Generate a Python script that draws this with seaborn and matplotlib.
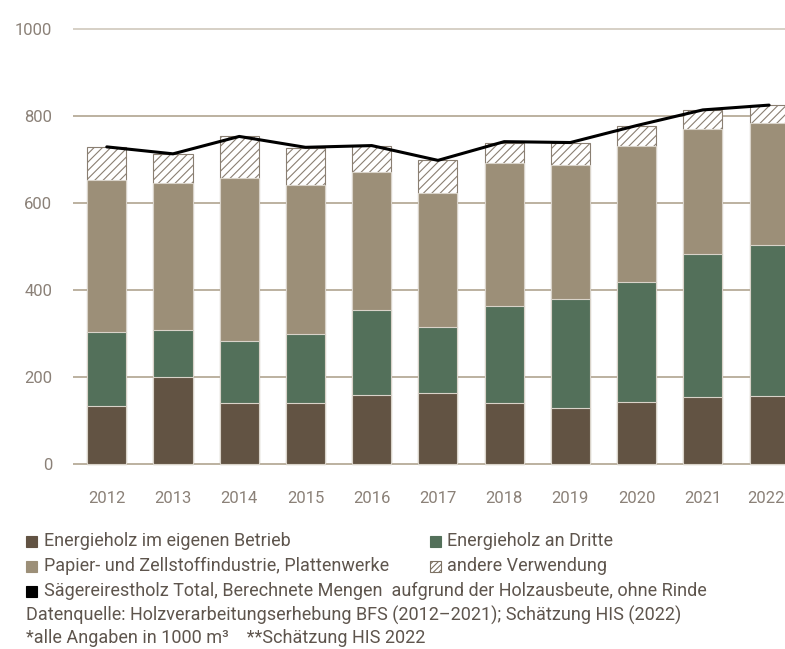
import numpy as np
import pandas as pd
import matplotlib
matplotlib.use("Agg")
import matplotlib.pyplot as plt
import seaborn as sns
from matplotlib.patches import Rectangle

# ===================== Sägerestholz Verwendung (1000 m3) =====================
years = ["2012", "2013", "2014", "2015", "2016", "2017", "2018", "2019", "2020", "2021", "2022*"]
eigen = [133, 200, 140, 140, 159, 163, 140, 129, 143, 154, 156]
dritte = [170, 108, 143, 159, 195, 152, 223, 250, 275, 329, 348]
papier = [350, 339, 374, 342, 317, 307, 328, 308, 312, 287, 280]
andere = [76, 66, 96, 85, 60, 76, 48, 50, 48, 43, 41]
total_line = [729, 713, 753, 728, 732, 698, 741, 739, 778, 814, 825]

c_eigen = "#625343"
c_dritte = "#53705a"
c_papier = "#9c8f78"
c_grid = "#a99c86"
c_tick = "#8b8178"
c_text = "#5e554d"

df = pd.DataFrame({"year": years, "eigen": eigen, "dritte": dritte,
                   "papier": papier, "andere": andere})
df["cum1"] = df["eigen"]
df["cum2"] = df["cum1"] + df["dritte"]
df["cum3"] = df["cum2"] + df["papier"]
df["cum4"] = df["cum3"] + df["andere"]

sns.set_style("white")
plt.rcParams["hatch.color"] = "#7d7264"
plt.rcParams["hatch.linewidth"] = 0.8

fig = plt.figure(figsize=(7.85, 6.49), dpi=100)
ax = fig.add_axes([73 / 785, 1 - 466.2 / 649, 1 - 73 / 785, 439.4 / 649])

w = 0.59
# tallest first, each layer painted over the one before
sns.barplot(data=df, x="year", y="cum4", color="white", width=w, ax=ax,
            edgecolor="#8a7f72", linewidth=0.8, hatch="////", saturation=1)
sns.barplot(data=df, x="year", y="cum3", color=c_papier, width=w, ax=ax,
            edgecolor="#d9d3c9", linewidth=0.8, saturation=1)
sns.barplot(data=df, x="year", y="cum2", color=c_dritte, width=w, ax=ax,
            edgecolor="#d9d3c9", linewidth=0.8, saturation=1)
sns.barplot(data=df, x="year", y="cum1", color=c_eigen, width=w, ax=ax,
            edgecolor="#d9d3c9", linewidth=0.8, saturation=1)

sns.lineplot(x=np.arange(len(years)), y=total_line, color="black", lw=2.2, ax=ax)

ax.set_xlim(-0.51, 10.24)
ax.set_ylim(-5, 1005)
ax.set_yticks([0, 200, 400, 600, 800, 1000])
ax.yaxis.grid(True, color=c_grid, lw=1.1)
ax.xaxis.grid(False)
ax.set_axisbelow(True)
ax.get_ygridlines()[-1].set_color("#cbc4b7")
for s in ax.spines.values():
    s.set_visible(False)
ax.set_xlabel("")
ax.set_ylabel("")
ax.tick_params(axis="y", length=0, pad=15, labelsize=12, labelcolor=c_tick)
ax.tick_params(axis="x", length=0, pad=18, labelsize=12, labelcolor=c_tick)
for lab in ax.get_xticklabels() + ax.get_yticklabels():
    lab.set_family("Roboto")

# legend / notes below the chart
font_leg = ["Roboto", "DejaVu Sans"]
rows = [541, 566, 591, 615, 638]
W, H = 785, 649


def square(x, y, color, hatch=None):
    fc = "white" if hatch else color
    ec = "#7d7264" if hatch else color
    fig.patches.append(Rectangle((x / W, 1 - (y + 5.5) / H), 11 / W, 11 / H,
                                 transform=fig.transFigure, facecolor=fc,
                                 edgecolor=ec, hatch=hatch, lw=0.8))


def note(x, y, s):
    fig.text(x / W, 1 - y / H, s, family=font_leg, fontsize=13,
             color=c_text, va="center", ha="left")


square(26, rows[0], c_eigen)
note(44, rows[0], "Energieholz im eigenen Betrieb")
square(430, rows[0], c_dritte)
note(447, rows[0], "Energieholz an Dritte")
square(26, rows[1], c_papier)
note(44, rows[1], "Papier- und Zellstoffindustrie, Plattenwerke")
square(430, rows[1], None, hatch="//////")
note(447, rows[1], "andere Verwendung")
square(26, rows[2], "black")
note(44, rows[2], "Sägereirestholz Total, Berechnete Mengen  aufgrund der Holzausbeute, ohne Rinde")
note(26, rows[3], "Datenquelle: Holzverarbeitungserhebung BFS (2012–2021); Schätzung HIS (2022)")
note(26, rows[4], "*alle Angaben in 1000 m³    **Schätzung HIS 2022")

plt.savefig("out.png", dpi=100)
